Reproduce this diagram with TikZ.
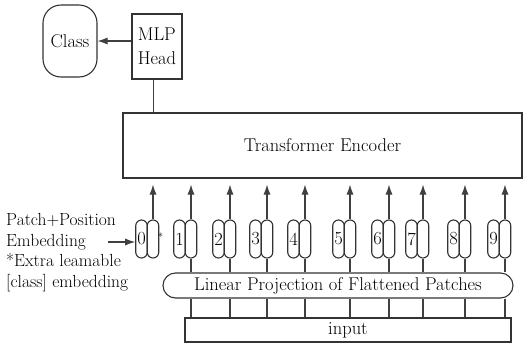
\documentclass[tikz,border=0pt]{standalone}
\usetikzlibrary{arrows.meta,positioning}
\tikzset{
  box/.style={draw=black!80, line width=1.1pt, inner sep=0pt, align=center},
  pill/.style={box, minimum width=11.5pt, minimum height=38pt, rounded corners=5.7pt},
  link/.style={line width=1.1pt, draw=black!75},
  tip/.style={link, -{Latex[length=10pt,width=7pt]}}
}
\begin{document}
\begin{tikzpicture}[x=1pt, y=-1pt, font=\fontsize{18.5}{20.5}\selectfont]
  \useasboundingbox (0,0) rectangle (523,346);
  % output side
  \node[box, rounded corners=18pt, minimum width=54pt, minimum height=72pt] (cls) at (70,41) {Class};
  \node[box, align=left, minimum width=50pt, minimum height=65pt] (mlp) at (157,46.5) {MLP\\[3pt]Head};
  \draw[tip] (cls.east -| mlp.west) -- (cls.east);
  \node[box, minimum width=399pt, minimum height=65pt] (enc) at (322.5,145.5) {Transformer Encoder};
  \draw[link] ([xshift=-3.5pt]mlp.south) -- ([xshift=-3.5pt]mlp.south |- enc.north);
  % input side
  \node[box, rounded corners=12.5pt, minimum width=350pt, minimum height=25pt] (proj) at (338,285.5) {Linear Projection of Flattened Patches};
  \node[box, minimum width=326pt, minimum height=24pt] (in) at (348,330) {input};
  % token pairs
  \foreach \i/\x in {0/153,1/191,2/230,3/267,4/305,5/350,6/389,7/423,8/465,9/505}{
    \node[pill] (r\i) at (\x,239) {};
    \node[pill] (l\i) at (\x-11.5,239) {\i};
    \draw[tip, shorten >=6pt] (r\i.north) -- (r\i.north |- enc.south);
  }
  \foreach \i in {1,...,9}{
    \draw[link] (r\i.south) -- (r\i.south |- proj.north);
    \draw[link] (proj.south -| r\i) -- (in.north -| r\i);
  }
  \node[inner sep=0pt, font=\fontsize{10}{10}\selectfont] (star) at (160.5,237) {*};
  % legend on the left
  \node[align=left, anchor=west, inner sep=0pt, font=\fontsize{17.5}{20.5}\selectfont] (lbl) at (6,252.5)
    {Patch+Position\\Embedding\\*Extra leamable\\{}[class] embedding};
  \coordinate (emb) at (108,242);
  \draw[tip] (emb) -- (l0.west |- emb);
\end{tikzpicture}
\end{document}
